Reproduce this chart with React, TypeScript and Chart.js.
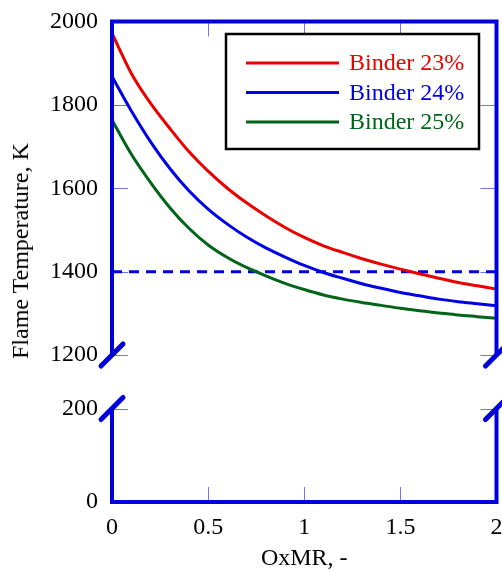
import React, { useEffect, useRef } from "react";
import { Chart, registerables } from "chart.js";

Chart.register(...registerables);

// ---- data ----
const oxmr = [0, 0.1, 0.2, 0.3, 0.4, 0.5, 0.6, 0.7, 0.8, 0.9, 1.0, 1.1, 1.2, 1.3, 1.4, 1.5, 1.6, 1.7, 1.8, 1.9, 2.0];
const binder23 = [1972, 1876, 1804, 1744, 1688, 1641, 1600, 1565, 1534, 1506, 1482, 1462, 1446, 1431, 1418, 1406, 1395, 1384, 1374, 1366, 1358];
const binder24 = [1868, 1786, 1712, 1648, 1594, 1550, 1514, 1483, 1457, 1435, 1415, 1398, 1384, 1371, 1360, 1350, 1342, 1334, 1328, 1323, 1318];
const binder25 = [1764, 1682, 1614, 1554, 1504, 1464, 1434, 1410, 1390, 1372, 1357, 1344, 1334, 1326, 1319, 1312, 1306, 1301, 1296, 1292, 1288];
const seriesLabels = ["Binder 23%", "Binder 24%", "Binder 25%"];
const limitX = [0, 2];
const limitTemp = [1400, 1400];
const xTicks = [0, 0.5, 1, 1.5, 2];
const upperYTicks = [1200, 1400, 1600, 1800, 2000];
const lowerYTicks = [0, 200];
const xTitle = "OxMR, -";
const yTitle = "Flame Temperature, K";

// ---- styles ----
const RED = "rgb(235,0,0)";
const BLUE = "rgb(0,0,230)";
const GREEN = "rgb(0,100,25)";
const FRAME = "rgb(0,0,220)";
const TICK = "rgba(0,0,220,0.55)";
const FONT = "'Liberation Serif', 'Times New Roman', serif";
const W = 502;
const TOP_H = 385;
const BOT_H = 571 - TOP_H;

const toPts = (xs: number[], ys: number[]) => xs.map((x, i) => ({ x, y: ys[i] }));
const plainLabel = (v: any) => String(v);

function line(ctx: CanvasRenderingContext2D, x1: number, y1: number, x2: number, y2: number) {
  ctx.beginPath();
  ctx.moveTo(x1, y1);
  ctx.lineTo(x2, y2);
  ctx.stroke();
}

function framePlugin(part: "top" | "bottom") {
  return {
    id: "frame-" + part,
    afterDatasetsDraw(chart: any) {
      const { ctx, chartArea: a, scales } = chart;
      ctx.save();
      // inner ticks
      ctx.strokeStyle = TICK;
      ctx.lineWidth = 1;
      const yt = part === "top" ? upperYTicks : lowerYTicks;
      yt.forEach((v) => {
        const py = Math.round(scales.y.getPixelForValue(v)) + 0.5;
        line(ctx, a.left, py, a.left + 16, py);
        line(ctx, a.right - 16, py, a.right, py);
      });
      xTicks.slice(1, -1).forEach((v) => {
        const px = Math.round(scales.x.getPixelForValue(v)) + 0.5;
        if (part === "top") line(ctx, px, a.top, px, a.top + 15);
        else line(ctx, px, a.bottom - 15, px, a.bottom);
      });
      // frame
      ctx.strokeStyle = FRAME;
      ctx.lineWidth = 4;
      ctx.lineJoin = "miter";
      ctx.beginPath();
      if (part === "top") {
        ctx.moveTo(a.left, a.bottom);
        ctx.lineTo(a.left, a.top);
        ctx.lineTo(a.right, a.top);
        ctx.lineTo(a.right, a.bottom);
      } else {
        ctx.moveTo(a.left, a.top);
        ctx.lineTo(a.left, a.bottom);
        ctx.lineTo(a.right, a.bottom);
        ctx.lineTo(a.right, a.top);
      }
      ctx.stroke();
      // axis break marks
      const by = part === "top" ? a.bottom : a.top;
      ctx.lineWidth = 5;
      ctx.lineCap = "round";
      [a.left, a.right].forEach((x) => line(ctx, x - 11, by + 11, x + 11, by - 11));
      ctx.restore();
    },
  };
}

const legendPlugin = {
  id: "boxLegend",
  afterDraw(chart: any) {
    const { ctx, chartArea: a } = chart;
    const items = chart.data.datasets.filter((d: any) => d.showInLegend);
    const right = a.right - 17.5;
    const left = right - 253;
    const top = a.top + 12.5;
    const h = 115;
    ctx.save();
    ctx.fillStyle = "#fff";
    ctx.fillRect(left, top, right - left, h);
    ctx.strokeStyle = "#000";
    ctx.lineWidth = 2.5;
    ctx.strokeRect(left, top, right - left, h);
    ctx.font = `24px ${FONT}`;
    ctx.textBaseline = "middle";
    ctx.textAlign = "left";
    items.forEach((d: any, i: number) => {
      const y = top + 29 + i * 29.5;
      ctx.strokeStyle = d.borderColor;
      ctx.lineWidth = 3;
      line(ctx, left + 20, y, left + 113, y);
      ctx.fillStyle = d.borderColor;
      ctx.fillText(d.label, left + 123, y + 1);
    });
    ctx.restore();
  },
};

const tickFont = { family: FONT, size: 24 };

export default function App() {
  const topRef = useRef<HTMLCanvasElement>(null);
  const botRef = useRef<HTMLCanvasElement>(null);

  useEffect(() => {
    const colors = [RED, BLUE, GREEN];
    const series = [binder23, binder24, binder25];
    const datasets: any[] = series.map((s, i) => ({
      label: seriesLabels[i],
      showInLegend: true,
      data: toPts(oxmr, s),
      borderColor: colors[i],
      backgroundColor: colors[i],
      borderWidth: 3,
      pointRadius: 0,
      cubicInterpolationMode: "monotone",
      showLine: true,
      fill: false,
    }));
    datasets.push({
      label: "limit",
      showInLegend: false,
      data: toPts(limitX, limitTemp),
      borderColor: FRAME,
      borderWidth: 3,
      borderDash: [10, 7],
      pointRadius: 0,
      showLine: true,
      fill: false,
    });

    const top = new Chart(topRef.current as HTMLCanvasElement, {
      type: "scatter",
      data: { datasets },
      options: {
        animation: false,
        responsive: false,
        devicePixelRatio: 1,
        layout: { padding: { top: 21.5, right: 5.5, bottom: 30, left: 0 } },
        plugins: { legend: { display: false }, tooltip: { enabled: false } },
        scales: {
          x: { type: "linear", min: 0, max: 2, display: false },
          y: {
            type: "linear",
            min: 1200,
            max: 2000,
            afterBuildTicks: (s: any) => {
              s.ticks = upperYTicks.map((v) => ({ value: v }));
            },
            afterFit: (s: any) => {
              s.width = 112;
              s.paddingTop = 0;
              s.paddingBottom = 0;
            },
            grid: { display: false, drawTicks: false },
            border: { display: false },
            ticks: { padding: 14, color: "#000", font: tickFont, callback: plainLabel },
          },
        },
      } as any,
      plugins: [framePlugin("top"), legendPlugin],
    });

    const bottom = new Chart(botRef.current as HTMLCanvasElement, {
      type: "scatter",
      data: { datasets: [] },
      options: {
        animation: false,
        responsive: false,
        devicePixelRatio: 1,
        layout: { padding: { top: 23.5, right: 5.5, bottom: 0, left: 0 } },
        plugins: { legend: { display: false }, tooltip: { enabled: false } },
        scales: {
          x: {
            type: "linear",
            min: 0,
            max: 2,
            afterBuildTicks: (s: any) => {
              s.ticks = xTicks.map((v) => ({ value: v }));
            },
            afterFit: (s: any) => {
              s.height = 69;
              s.paddingLeft = 0;
              s.paddingRight = 0;
            },
            grid: { display: false, drawTicks: false },
            border: { display: false },
            ticks: { padding: 11, color: "#000", font: tickFont, maxRotation: 0, callback: plainLabel },
            title: {
              display: true,
              text: xTitle,
              color: "#000",
              font: tickFont,
              padding: { top: 0, bottom: -2 },
            },
          },
          y: {
            type: "linear",
            min: 0,
            max: 200,
            afterBuildTicks: (s: any) => {
              s.ticks = lowerYTicks.map((v) => ({ value: v }));
            },
            afterFit: (s: any) => {
              s.width = 112;
              s.paddingTop = 0;
              s.paddingBottom = 0;
            },
            grid: { display: false, drawTicks: false },
            border: { display: false },
            ticks: { padding: 14, color: "#000", font: tickFont, callback: plainLabel },
          },
        },
      } as any,
      plugins: [framePlugin("bottom")],
    });

    return () => {
      top.destroy();
      bottom.destroy();
    };
  }, []);

  return (
    <div style={{ position: "absolute", left: 0, top: 0, width: W, height: 571, background: "#fff" }}>
      <canvas ref={topRef} width={W} height={TOP_H} style={{ position: "absolute", left: 0, top: 0 }} />
      <canvas ref={botRef} width={W} height={BOT_H} style={{ position: "absolute", left: 0, top: TOP_H }} />
      <div
        style={{
          position: "absolute",
          left: 20,
          top: 251,
          transform: "translate(-50%, -50%) rotate(-90deg)",
          whiteSpace: "nowrap",
          fontFamily: FONT,
          fontSize: 24,
          lineHeight: "24px",
          color: "#000",
        }}
      >
        {yTitle}
      </div>
    </div>
  );
}
